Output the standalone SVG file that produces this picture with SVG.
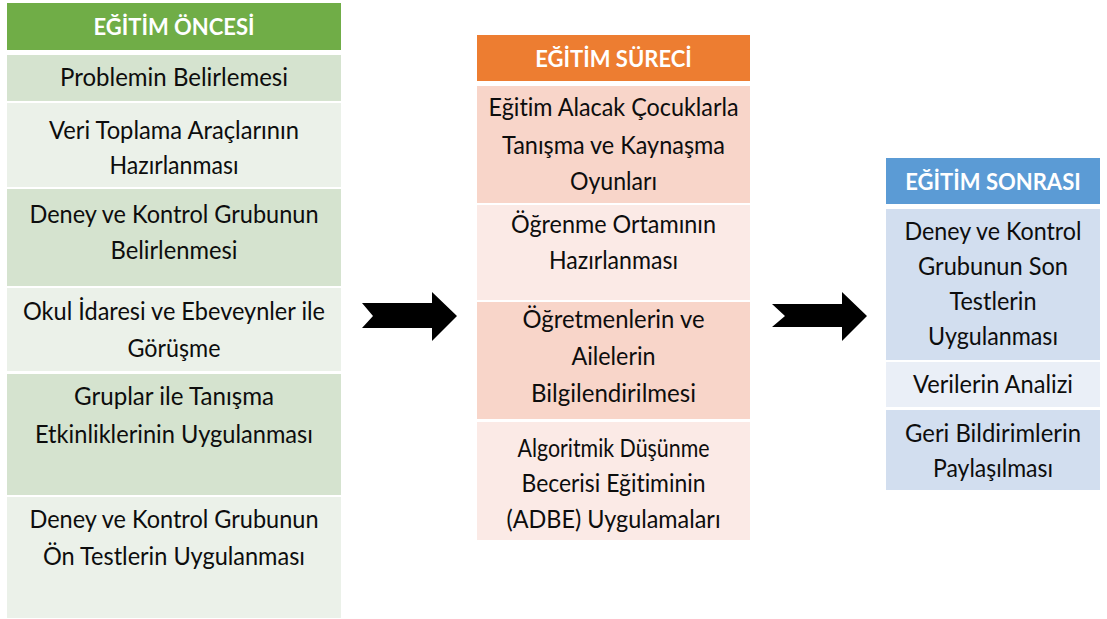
<svg xmlns="http://www.w3.org/2000/svg" width="1107" height="619" viewBox="0 0 1107 619">
<style>
.t{font-family:Lato,"Liberation Sans",sans-serif;font-size:25.5px;fill:#0d0d0d;text-anchor:middle;font-variant-ligatures:none}
.h{font-family:Lato,"Liberation Sans",sans-serif;font-size:22px;font-weight:bold;fill:#fff;text-anchor:middle}
.gh{fill:#70AD47}.gd{fill:#D5E3CF}.gl{fill:#EBF1E9}
.oh{fill:#ED7D31}.od{fill:#F8D5C9}.ol{fill:#FBEAE6}
.bh{fill:#5B9BD5}.bd{fill:#D2DEEF}.bl{fill:#EAEFF7}
.arrow{fill:#000}
</style>
<rect width="1107" height="619" fill="#fff"/>
<g id="col-oncesi">
<g id="oncesi-header"><rect class="gh" x="7" y="3" width="334" height="47"/><text class="h" x="174" y="35">EĞİTİM ÖNCESİ</text></g>
<g id="oncesi-1"><rect class="gd" x="7" y="55" width="334" height="46"/><text class="t" x="174" y="86" textLength="228" lengthAdjust="spacingAndGlyphs">Problemin Belirlemesi</text></g>
<g id="oncesi-2"><rect class="gl" x="7" y="103" width="334" height="84"/><text class="t" x="174" y="139" textLength="250" lengthAdjust="spacingAndGlyphs">Veri Toplama Araçlarının</text><text class="t" x="174" y="174" textLength="129" lengthAdjust="spacingAndGlyphs">Hazırlanması</text></g>
<g id="oncesi-3"><rect class="gd" x="7" y="189" width="334" height="97"/><text class="t" x="174" y="223" textLength="289" lengthAdjust="spacingAndGlyphs">Deney ve Kontrol Grubunun</text><text class="t" x="174" y="259" textLength="127" lengthAdjust="spacingAndGlyphs">Belirlenmesi</text></g>
<g id="oncesi-4"><rect class="gl" x="7" y="288" width="334" height="83"/><text class="t" x="174" y="320" textLength="302" lengthAdjust="spacingAndGlyphs">Okul İdaresi ve Ebeveynler ile</text><text class="t" x="174" y="357" textLength="93" lengthAdjust="spacingAndGlyphs">Görüşme</text></g>
<g id="oncesi-5"><rect class="gd" x="7" y="374" width="334" height="121"/><text class="t" x="174" y="405" textLength="200" lengthAdjust="spacingAndGlyphs">Gruplar ile Tanışma</text><text class="t" x="174" y="443" textLength="278" lengthAdjust="spacingAndGlyphs">Etkinliklerinin Uygulanması</text></g>
<g id="oncesi-6"><rect class="gl" x="7" y="497" width="334" height="121"/><text class="t" x="174" y="528" textLength="289" lengthAdjust="spacingAndGlyphs">Deney ve Kontrol Grubunun</text><text class="t" x="174" y="565" textLength="262" lengthAdjust="spacingAndGlyphs">Ön Testlerin Uygulanması</text></g>
</g>
<g id="col-sureci">
<g id="sureci-header"><rect class="oh" x="477" y="35" width="273" height="46"/><text class="h" x="613.5" y="67">EĞİTİM SÜRECİ</text></g>
<g id="sureci-1"><rect class="od" x="477" y="86" width="273" height="117"/><text class="t" x="613.5" y="116" textLength="250" lengthAdjust="spacingAndGlyphs">Eğitim Alacak Çocuklarla</text><text class="t" x="613.5" y="154" textLength="223" lengthAdjust="spacingAndGlyphs">Tanışma ve Kaynaşma</text><text class="t" x="613.5" y="190" textLength="87" lengthAdjust="spacingAndGlyphs">Oyunları</text></g>
<g id="sureci-2"><rect class="ol" x="477" y="205" width="273" height="95"/><text class="t" x="613.5" y="233" textLength="205" lengthAdjust="spacingAndGlyphs">Öğrenme Ortamının</text><text class="t" x="613.5" y="269" textLength="129" lengthAdjust="spacingAndGlyphs">Hazırlanması</text></g>
<g id="sureci-3"><rect class="od" x="477" y="302" width="273" height="117"/><text class="t" x="613.5" y="328" textLength="182" lengthAdjust="spacingAndGlyphs">Öğretmenlerin ve</text><text class="t" x="613.5" y="365" textLength="84" lengthAdjust="spacingAndGlyphs">Ailelerin</text><text class="t" x="613.5" y="402" textLength="165" lengthAdjust="spacingAndGlyphs">Bilgilendirilmesi</text></g>
<g id="sureci-4"><rect class="ol" x="477" y="422" width="273" height="118"/><text class="t" x="613.5" y="457" textLength="192" lengthAdjust="spacingAndGlyphs">Algoritmik Düşünme</text><text class="t" x="613.5" y="492" textLength="184" lengthAdjust="spacingAndGlyphs">Becerisi Eğitiminin</text><text class="t" x="613.5" y="528" textLength="214" lengthAdjust="spacingAndGlyphs">(ADBE) Uygulamaları</text></g>
</g>
<g id="col-sonrasi">
<g id="sonrasi-header"><rect class="bh" x="886" y="158" width="214" height="46"/><text class="h" x="993" y="190">EĞİTİM SONRASI</text></g>
<g id="sonrasi-1"><rect class="bd" x="886" y="209" width="214" height="151"/><text class="t" x="993" y="240" textLength="177" lengthAdjust="spacingAndGlyphs">Deney ve Kontrol</text><text class="t" x="993" y="275" textLength="150" lengthAdjust="spacingAndGlyphs">Grubunun Son</text><text class="t" x="993" y="310" textLength="87" lengthAdjust="spacingAndGlyphs">Testlerin</text><text class="t" x="993" y="345" textLength="130" lengthAdjust="spacingAndGlyphs">Uygulanması</text></g>
<g id="sonrasi-2"><rect class="bl" x="886" y="362" width="214" height="45"/><text class="t" x="993" y="393" textLength="160" lengthAdjust="spacingAndGlyphs">Verilerin Analizi</text></g>
<g id="sonrasi-3"><rect class="bd" x="886" y="410" width="214" height="80"/><text class="t" x="993" y="442" textLength="176" lengthAdjust="spacingAndGlyphs">Geri Bildirimlerin</text><text class="t" x="993" y="477" textLength="120" lengthAdjust="spacingAndGlyphs">Paylaşılması</text></g>
</g>
<g id="connectors">
<polygon class="arrow" points="362,303 432,303 432,292 457,316 432,341 432,328 362,328 373,316"/>
<polygon class="arrow" points="772,304 842,304 842,292 867,316 842,341 842,327 772,327 785,316"/>
</g>
</svg>
